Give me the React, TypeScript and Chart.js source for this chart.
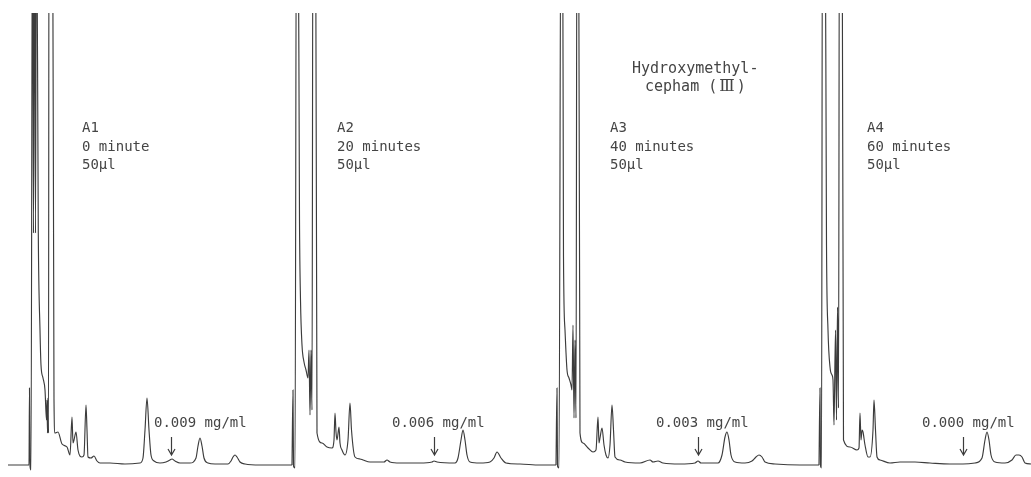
import React, { useEffect, useRef } from 'react';
import { Chart, registerables } from 'chart.js';

Chart.register(...registerables);

// Chart-recorder strip: paper position of each injection mark
const injections = [29, 293, 557, 820];
// Pen deflection beyond full scale (off the paper)
const OFF = 600;

// Panel A1: retention (paper units after injection) and pen deflection
const rtA1 = [-21, 0, 0.5, 1, 2, 3.5, 4.5, 5.5, 6.5, 7.5, 9.3, 11, 12, 14, 16, 17.5, 18, 18.5, 19, 19.5, 20, 23.5, 25, 26, 29, 33, 38, 41, 43, 44, 45, 47, 49, 53, 55, 57, 58, 59, 62, 65, 68, 71, 81, 96, 111, 114, 116, 118, 120, 122, 125, 131, 137, 141, 143, 146, 151, 161, 167, 169, 171, 173, 175, 179, 186, 199, 202, 204, 206, 208, 211, 216, 231, 263];
const respA1 = [0, 0, 77, -1, -5, OFF, 232, OFF, 232, OFF, 232, 135, 100, 87, 75, 45, 65, 32, 67, 32, OFF, OFF, 65, 32, 33, 21, 18, 10, 48, 22, 25, 33, 15, 8, 10, 60, 35, 8, 7, 9, 4, 2, 2, 1, 2, 7, 35, 67, 35, 10, 4, 2, 3, 5, 6, 4, 2, 2, 7, 19, 27, 19, 7, 2, 1, 1, 4, 8, 10, 8, 3, 1, 0, 0];

// Panel A2
const rtA2 = [-1, 0, 0.5, 2, 3.5, 5, 6.5, 7.5, 9, 11, 13, 15, 16, 17, 18, 19, 20, 22.5, 24, 29, 34, 39, 41, 42, 43, 44, 46, 47, 49, 52, 55, 57, 58.5, 62, 67, 70, 77, 91, 94, 97, 107, 127, 139, 141, 144, 162, 165, 168, 170, 172, 174, 177, 187, 197, 201, 204, 208, 213, 227, 247, 263];
const respA2 = [0, 75, -1, -3, OFF, OFF, 245, 165, 120, 103, 95, 87, 115, 50, 115, 55, OFF, OFF, 32, 22, 18, 17, 25, 52, 33, 25, 38, 22, 15, 10, 25, 62, 35, 8, 6, 5, 3, 3, 5, 3, 2, 2, 3, 4, 3, 2, 7, 25, 35, 25, 10, 3, 2, 3, 7, 13, 7, 2, 1, 0, 0];

// Panel A3
const rtA3 = [-1, 0, 0.5, 2, 4, 5.5, 6.5, 8, 10, 12, 14, 15, 16, 17, 18, 19, 20, 21.5, 23, 26, 31, 36, 39, 41, 42, 43, 45, 47, 49, 51, 53, 55, 56.5, 58, 63, 68, 83, 93, 96, 101, 106, 123, 138, 141, 144, 161, 165, 168, 170, 172, 174, 178, 188, 195, 199, 202, 205, 208, 218, 243, 262];
const respA3 = [0, 77, -1, -3, OFF, OFF, 208, 135, 95, 87, 80, 75, 140, 47, 125, 47, OFF, OFF, 32, 22, 17, 13, 15, 48, 22, 27, 37, 20, 10, 7, 20, 60, 35, 8, 5, 3, 2, 5, 3, 4, 2, 1, 2, 4, 2, 2, 10, 28, 33, 25, 10, 3, 2, 4, 8, 10, 8, 3, 1, 0, 0];

// Panel A4
const rtA4 = [-1, 0, 0.5, 1.5, 2.5, 5, 6.5, 8, 10, 12, 13, 14, 15.5, 16.5, 17.5, 18.5, 19.5, 22, 23.5, 30, 37, 39, 40, 41, 42, 43, 45, 48, 50, 53, 54, 55.5, 57, 60, 70, 80, 95, 110, 130, 143, 155, 162, 165, 167, 169, 171, 175, 185, 192, 196, 199, 202, 205, 211];
const respA4 = [0, 77, -1, -3, OFF, OFF, 220, 135, 98, 90, 85, 40, 135, 45, 158, 57, OFF, OFF, 25, 18, 15, 17, 52, 25, 35, 33, 20, 8, 8, 35, 65, 35, 8, 5, 2, 3, 3, 2, 1, 1, 2, 7, 25, 33, 25, 10, 3, 2, 5, 10, 10, 8, 2, 1];

const panelRt = [rtA1, rtA2, rtA3, rtA4];
const panelResp = [respA1, respA2, respA3, respA4];

// Annotation texts
const panelIds = ['A1', 'A2', 'A3', 'A4'];
const reactionTimes = ['0 minute', '20 minutes', '40 minutes', '60 minutes'];
const injectionVolumes = ['50\u03bcl', '50\u03bcl', '50\u03bcl', '50\u03bcl'];
const concentrations = ['0.009 mg/ml', '0.006 mg/ml', '0.003 mg/ml', '0.000 mg/ml'];
const compoundLine1 = 'Hydroxymethyl-';
const compoundLine2 = ['cepham (', '\u2162', ')'];
// Retention of the hydroxymethylcepham peak (arrow) in each run
const arrowRt = [142, 141, 141, 143];

// Annotation placement (data units)
const labelRt = [53, 44, 53, 47];
const labelResp = [337, 318, 300];
const concRt = [125, 99, 99, 102];
const concResp = 42;
const arrowTop = 28;
const arrowBottom = 10;
const compoundPanel = 2;
const compoundRt = [75, 88];
const compoundResp = [396, 378];

const INK = '#3c3c3c';
const TEXT = '#454545';
const FONT = '14px "DejaVu Sans Mono", "Liberation Mono", monospace';
const FONT_BIG = '15px "DejaVu Sans Mono", "Liberation Mono", monospace';
const FONT_ROMAN = '16px "DejaVu Serif", "Liberation Serif", serif';

const annotationPlugin = {
  id: 'chromAnnotations',
  afterDatasetsDraw(chart: any) {
    const { ctx, scales } = chart;
    const xs = scales.x;
    const ys = scales.y;
    ctx.save();
    ctx.fillStyle = TEXT;
    ctx.strokeStyle = INK;
    ctx.font = FONT;
    ctx.textBaseline = 'middle';
    ctx.textAlign = 'left';
    injections.forEach((inj, i) => {
      const lx = xs.getPixelForValue(inj + labelRt[i]);
      const lines = [panelIds[i], reactionTimes[i], injectionVolumes[i]];
      lines.forEach((t, k) => ctx.fillText(t, lx, ys.getPixelForValue(labelResp[k])));
      ctx.fillText(concentrations[i], xs.getPixelForValue(inj + concRt[i]), ys.getPixelForValue(concResp));
      // arrow
      const ax = Math.round(xs.getPixelForValue(inj + arrowRt[i])) + 0.5;
      const ay1 = ys.getPixelForValue(arrowTop);
      const ay2 = ys.getPixelForValue(arrowBottom);
      ctx.lineWidth = 1.2;
      ctx.beginPath();
      ctx.moveTo(ax, ay1);
      ctx.lineTo(ax, ay2);
      ctx.moveTo(ax - 3.5, ay2 - 6);
      ctx.lineTo(ax, ay2);
      ctx.lineTo(ax + 3.5, ay2 - 6);
      ctx.stroke();
    });
    // compound label
    const base = injections[compoundPanel];
    ctx.font = FONT_BIG;
    ctx.fillText(compoundLine1, xs.getPixelForValue(base + compoundRt[0]), ys.getPixelForValue(compoundResp[0]));
    let x = xs.getPixelForValue(base + compoundRt[1]);
    const y2 = ys.getPixelForValue(compoundResp[1]);
    compoundLine2.forEach((seg, k) => {
      ctx.font = k === 1 ? FONT_ROMAN : FONT_BIG;
      const pad = k === 1 ? 2 : 0;
      x += pad;
      ctx.fillText(seg, x, y2);
      x += ctx.measureText(seg).width + pad;
    });
    ctx.restore();
  },
};

export default function App() {
  const canvasRef = useRef<HTMLCanvasElement | null>(null);

  useEffect(() => {
    if (!canvasRef.current) return;
    const datasets = injections.map((inj, i) => ({
      label: panelIds[i],
      data: panelRt[i].map((rt, k) => ({ x: inj + rt, y: panelResp[i][k] })),
      showLine: true,
      borderColor: INK,
      borderWidth: 1.15,
      pointRadius: 0,
      cubicInterpolationMode: 'monotone',
      fill: false,
    }));
    const chart = new Chart(canvasRef.current, {
      type: 'scatter',
      data: { datasets } as any,
      options: {
        animation: false,
        responsive: false,
        events: [],
        layout: { padding: { top: 13, left: 0, right: 0, bottom: 0 } },
        plugins: { legend: { display: false }, tooltip: { enabled: false } },
        scales: {
          x: { type: 'linear', min: 0, max: 1031, display: false },
          y: { type: 'linear', min: -12, max: 452, display: false },
        },
      },
      plugins: [annotationPlugin],
    });
    return () => chart.destroy();
  }, []);

  return (
    <div style={{ position: 'absolute', left: 0, top: 0, width: 1031, height: 477, background: '#fff' }}>
      <canvas ref={canvasRef} width={1031} height={477} />
    </div>
  );
}
